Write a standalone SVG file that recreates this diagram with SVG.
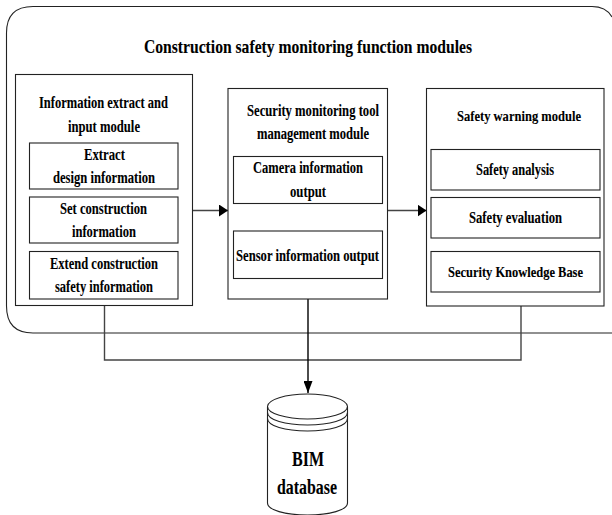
<svg xmlns="http://www.w3.org/2000/svg" width="612" height="515" viewBox="0 0 612 515">
<style>
.b{fill:none;stroke:#222;stroke-width:1.100}
.c{fill:none;stroke:#444;stroke-width:1.400}
.t{font-family:"Liberation Serif","Times New Roman",serif;font-weight:bold;font-size:16.500px;fill:#000;stroke:#000;stroke-width:.1}
.l{font-size:19.500px}
.x{font-size:22px}
.s{font-size:15.500px}
</style>
<defs>
<marker id="a" markerUnits="userSpaceOnUse" markerWidth="9" markerHeight="12" refX="9" refY="6" orient="auto"><path d="M0 0L9 6L0 12Z" fill="#000"/></marker>
<marker id="a2" markerUnits="userSpaceOnUse" markerWidth="12" markerHeight="9" refX="12" refY="4.500" orient="auto"><path d="M0 0L12 4.500L0 9Z" fill="#000"/></marker>
</defs>
<g id="container">
<path class="b" d="M612 333H33Q6.500 333 6.500 306V33Q6.500 6.500 33 6.500H592Q606 6.500 612 17"/>
<text class="t l" x="144" y="53" textLength="328" lengthAdjust="spacingAndGlyphs">Construction safety monitoring function modules</text>
</g>
<g id="connectors">
<path class="c" d="M192.500 210.500H228" marker-end="url(#a)"/>
<path class="c" d="M387.500 210.500H426.500" marker-end="url(#a)"/>
<path class="c" d="M104.500 305.500V360H521V306"/>
<path fill="none" stroke="#000" stroke-width="1.400" d="M308 299V393" marker-end="url(#a2)"/>
</g>
<g id="info-module">
<rect class="b" x="15.500" y="74.500" width="177" height="231"/>
<text class="t" x="39" y="108" textLength="129" lengthAdjust="spacingAndGlyphs">Information extract and</text>
<text class="t" x="68" y="132" textLength="72" lengthAdjust="spacingAndGlyphs">input module</text>
</g>
<g id="extract-design">
<rect class="b" x="29.500" y="143" width="148.500" height="46"/>
<text class="t" x="84" y="160" textLength="41" lengthAdjust="spacingAndGlyphs">Extract</text>
<text class="t" x="53" y="183" textLength="102" lengthAdjust="spacingAndGlyphs">design information</text>
</g>
<g id="set-construction">
<rect class="b" x="29.500" y="197" width="148.500" height="46"/>
<text class="t" x="60" y="214" textLength="87" lengthAdjust="spacingAndGlyphs">Set construction</text>
<text class="t" x="72" y="237" textLength="64" lengthAdjust="spacingAndGlyphs">information</text>
</g>
<g id="extend-construction">
<rect class="b" x="29.500" y="251.500" width="148.500" height="47.500"/>
<text class="t" x="50" y="269" textLength="108" lengthAdjust="spacingAndGlyphs">Extend construction</text>
<text class="t" x="55" y="292" textLength="98" lengthAdjust="spacingAndGlyphs">safety information</text>
</g>
<g id="monitoring-module">
<rect class="b" x="228" y="88.500" width="159.500" height="210.500"/>
<text class="t" x="247" y="116" textLength="132" lengthAdjust="spacingAndGlyphs">Security monitoring tool</text>
<text class="t" x="257" y="139" textLength="112" lengthAdjust="spacingAndGlyphs">management module</text>
</g>
<g id="camera-output">
<rect class="b" x="233.500" y="156.500" width="149" height="47"/>
<text class="t" x="253" y="173" textLength="110" lengthAdjust="spacingAndGlyphs">Camera information</text>
<text class="t" x="290" y="197" textLength="36" lengthAdjust="spacingAndGlyphs">output</text>
</g>
<g id="sensor-output">
<rect class="b" x="233.500" y="231" width="149" height="47.500"/>
<text class="t" x="236" y="261" textLength="143" lengthAdjust="spacingAndGlyphs">Sensor information output</text>
</g>
<g id="warning-module">
<rect class="b" x="426.500" y="88.500" width="177.500" height="217.500"/>
<text class="t s" x="457" y="121" textLength="124" lengthAdjust="spacingAndGlyphs">Safety warning module</text>
</g>
<g id="safety-analysis">
<rect class="b" x="431" y="149.500" width="169" height="40.500"/>
<text class="t" x="476" y="175" textLength="78" lengthAdjust="spacingAndGlyphs">Safety analysis</text>
</g>
<g id="safety-evaluation">
<rect class="b" x="431" y="197.500" width="169" height="40.500"/>
<text class="t" x="469" y="223" textLength="93" lengthAdjust="spacingAndGlyphs">Safety evaluation</text>
</g>
<g id="knowledge-base">
<rect class="b" x="431" y="251.500" width="169" height="40.500"/>
<text class="t s" style="font-size:15px" x="448" y="277" textLength="135" lengthAdjust="spacingAndGlyphs">Security Knowledge Base</text>
</g>
<g id="bim-database">
<path class="b" d="M267.500 406.500V503C267.500 510 285 515 307.500 515S347.500 510 347.500 503V406.500"/>
<ellipse class="b" cx="307.500" cy="406.500" rx="40" ry="12.500"/>
<path class="b" d="M267.500 412.500C267.500 420 285 425 307.500 425S347.500 420 347.500 412.500"/>
<path class="b" d="M267.500 418.500C267.500 426 285 431 307.500 431S347.500 426 347.500 418.500"/>
<text class="t x" x="292" y="466" textLength="32" lengthAdjust="spacingAndGlyphs">BIM</text>
<text class="t x" x="277" y="494" textLength="60" lengthAdjust="spacingAndGlyphs">database</text>
</g>
</svg>
